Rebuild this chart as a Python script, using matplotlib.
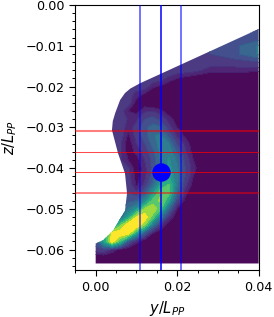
import numpy as np
import matplotlib
matplotlib.use('Agg')
import matplotlib.pyplot as plt
from matplotlib.patches import Polygon

# wake field, rows are z, columns are y
y_grid = [0, .002, .004, .006, .008, .010, .012, .014, .016, .018, .020, .022, .024, .028, .034, .040]
z_grid = [-.004, -.006, -.008, -.010, -.012, -.014, -.016, -.018, -.020, -.022, -.024,
          -.026, -.028, -.030, -.032, -.034, -.036, -.038, -.040, -.042, -.044, -.046,
          -.048, -.050, -.052, -.054, -.056, -.058, -.060, -.062, -.064]
field = [
    [2, 2, 2, 2, 2, 2, 2, 2, 2, 2, 2, 2, 2, 2, 2, 2],
    [2, 2, 2, 2, 2, 2, 2, 2, 2, 2, 2, 2, 2, 2, 2, 2],
    [2, 2, 2, 2, 2, 2, 2, 2, 2, 2, 2, 2, 2, 2, 2, 2.2],
    [2, 2, 2, 2, 2, 2, 2, 2, 2, 2, 2, 2, 2, 2, 2.5, 3.5],
    [2, 2, 2, 2, 2, 2, 2, 2, 2, 2, 2, 2, 2, 2, 2.5, 3.5],
    [2, 2, 2, 2, 2, 2, 2, 2, 2, 2, 2, 2, 2, 1.7, 1.7, 2],
    [2, 2, 2, 2, 2, 2, 2, 2, 1.8, 2, 1.7, 1.7, 1.6, 1.2, 1.2, 1.1],
    [1.7, 1.7, 1.7, 1.7, 1.7, 1.7, 1.7, 1.7, 1.7, 1.2, 1, .8, .7, .5, .5, .5],
    [1.7, 1.7, 1.7, 1.7, 1.7, 1.7, 1.7, 1.1, .9, .7, .5, .5, .5, .5, .5, .5],
    [1.7, 1.7, 1.7, 1.7, 1.7, 1.2, .9, .5, .5, .5, .5, .5, .5, .5, .5, .5],
    [1.7, 1.7, 1.7, 1.7, 1.7, .8, .7, .5, .5, .5, .5, .5, .5, .5, .5, .5],
    [1.7, 1.7, 1.7, 1.7, 1, .8, 1.3, 1.4, 1.1, .7, .5, .5, .5, .5, .5, .5],
    [1.7, 1.7, 1.7, 2, 1.3, 1.3, 2, 2.3, 1.8, 1.2, .8, .5, .5, .5, .5, .5],
    [1.7, 1.7, 1.7, 1.7, 1.2, 1.6, 2.5, 3, 2.8, 1.6, 1, .7, .5, .5, .5, .5],
    [1.7, 1.7, 1.7, 1.7, .9, 1.6, 2.4, 3.3, 3.6, 2.5, 1.3, .9, .5, .5, .5, .5],
    [1.5, 1.5, 1.5, 1.5, .7, 1.4, 2, 3, 3.8, 3.5, 2, 1.3, .7, .5, .5, .5],
    [1.5, 1.5, 1.5, 1.5, .8, 1.1, 1.6, 2.5, 3.7, 4, 2.7, 1.5, .8, .5, .5, .5],
    [1.5, 1.5, 1.5, 1.5, 1, .8, 1.4, 2.2, 3.5, 4.3, 3.3, 1.8, 1, .5, .5, .5],
    [1.5, 1.5, 1.5, 1.5, 1.5, .7, 1.2, 2.2, 3.5, 4.5, 3.6, 2, 1.1, .5, .5, .5],
    [1.6, 1.6, 1.6, 1.6, 1.6, .8, 1.2, 2.4, 4, 5, 3.6, 2, 1, .5, .5, .5],
    [1.8, 1.8, 1.8, 1.8, 1.8, .9, 1.5, 3, 5, 6, 3.6, 1.6, .8, .5, .5, .5],
    [2, 2, 2, 2, 2, 1.5, 2.5, 4.5, 6.8, 6.3, 3, 1.2, .5, .5, .5, .5],
    [2.5, 2.5, 2.5, 2.5, 2.5, 2.7, 4, 6.3, 7.3, 5, 2, .8, .5, .5, .5, .5],
    [2.5, 2.5, 2.5, 2.5, 3.5, 4.5, 7, 8, 6, 3, 1, .5, .5, .5, .5, .5],
    [2, 2, 2, 3, 5, 8, 8.8, 6.5, 3.5, 1.5, .5, .5, .5, .5, .5, .5],
    [3, 3, 3, 6.5, 9, 9.2, 7, 3.5, 1.5, .6, .5, .5, .5, .5, .5, .5],
    [3, 3.5, 8.5, 9, 8.5, 5, 2.5, 1, .5, .5, .5, .5, .5, .5, .5, .5],
    [2.5, 5, 8.5, 6, 2.5, 1.2, .5, .5, .5, .5, .5, .5, .5, .5, .5, .5],
    [1.7, 2, 1.3, .8, .5, .5, .5, .5, .5, .5, .5, .5, .5, .5, .5, .5],
    [.5, .5, .5, .5, .5, .5, .5, .5, .5, .5, .5, .5, .5, .5, .5, .5],
    [.5, .5, .5, .5, .5, .5, .5, .5, .5, .5, .5, .5, .5, .5, .5, .5],
]
levels = [0, 1, 1.4, 2, 2.7, 3.4, 4.2, 5, 6, 7, 8, 9.5]

# hull section outline
hull_y = [.04, .04, 0, 0, .0018, .0043, .0072, .0077, .0072, .0055, .0040,
          .0042, .0048, .0060, .0072, .0085, .0109]
hull_z = [-.0059, -.0634, -.0634, -.0585, -.0577, -.0553, -.0504, -.0462, -.0413, -.0364, -.0307,
          -.0285, -.0265, -.0233, -.0216, -.0205, -.0192]

h_lines = [-.031, -.036, -.041, -.046]
h_widths = [2, 1, 1, 1.5]
h_alpha = [.5, .7, .7, .6]
v_lines = [.011, .016, .021]
v_alpha = [.7, 1, .7]
probe_y = [.016]
probe_z = [-.041]

plt.rcParams['font.size'] = 9.2

fig = plt.figure(figsize=(2.74, 3.17), dpi=100)
ax = fig.add_axes([75.3 / 274, 47 / 317, 183.3 / 274, 265 / 317])

cs = ax.contourf(y_grid, z_grid, np.array(field), levels=levels, cmap='viridis',
                 vmin=.5, vmax=8.7, alpha=.97)
hull = Polygon(np.column_stack([hull_y, hull_z]), closed=True, transform=ax.transData,
               facecolor='none', edgecolor='none')
ax.add_patch(hull)
cs.set_clip_path(hull)

for x, a in zip(v_lines, v_alpha):
    ax.axvline(x, color='b', lw=1.1, alpha=a, zorder=3)
ax.scatter(probe_y, probe_z, s=175, color='b', zorder=4, linewidths=0)
for z, w, a in zip(h_lines, h_widths, h_alpha):
    ax.axhline(z, color='r', lw=w * .75, alpha=a, zorder=5)

ax.set_xlim(-.005, .04)
ax.set_ylim(-.065, 0)
ax.set_xticks([0, .02, .04])
ax.set_xticklabels(['0.00', '0.02', '0.04'])
ax.set_xticks(np.arange(-.005, .0401, .005), minor=True)
ax.set_yticks(np.arange(-.06, .001, .01))
ax.set_yticks(np.arange(-.064, .001, .002), minor=True)
ax.tick_params(which='major', length=4.2, width=.8, pad=3.5)
ax.tick_params(which='minor', length=2.4, width=.7)
ax.set_xlabel('$y/L_{PP}$', labelpad=4, fontsize=10.5)
ax.set_ylabel('$z/L_{PP}$', labelpad=5, fontsize=10.5)

fig.savefig('out.png', dpi=100)
